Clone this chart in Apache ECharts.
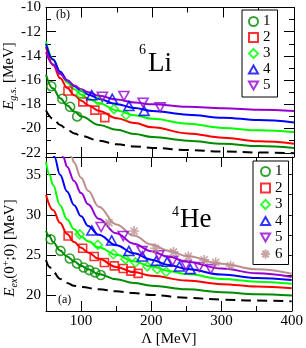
<!DOCTYPE html>
<html><head><meta charset="utf-8">
<script src="https://cdn.jsdelivr.net/npm/echarts@6/dist/echarts.min.js"></script>
<style>html,body{margin:0;padding:0;background:#fff}#c{width:306px;height:348px}</style>
</head><body><div id="c"></div>
<script>
// ---------- tick labels ----------
const xMajor = [100, 200, 300, 400];
const xMinor = [50, 150, 250, 350];
const liMajor = [-22, -20, -18, -16, -14, -12, -10];
const liMinor = [-21, -19, -17, -15, -13, -11];
const heMajor = [20, 25, 30, 35];
const heMinor = [22.5, 27.5, 32.5];
const legendNames = ['1', '2', '3', '4', '5', '6'];

// ---------- 6Li (panel b) points [Lambda, E] ----------
const li1 = [[57.5,-16.5],[73,-17.54],[84,-18.2],[94,-19.0]];
const li2 = [[81,-16.9],[102,-17.8],[119,-18.48],[133,-19.1]];
const li3 = [[99,-17.18],[124,-17.72],[146,-18.4],[163,-18.89]];
const li4 = [[114.5,-17.24],[143.5,-17.54],[167,-18.13],[188.5,-18.54]];
const li5 = [[129.5,-17.37],[160,-17.32],[187,-17.86],[211,-18.25]];
// 6Li fitted curves
const liFit1 = [[50,-15.55],[60,-16.7],[70,-17.5],[80,-18.1],[90,-18.6],[100,-19.0],[125,-19.7],[150,-20.1],[175,-20.45],[200,-20.7],[250,-21.0],[300,-21.25],[350,-21.45],[400,-21.6]];
const liFit2 = [[50,-13.25],[60,-14.75],[70,-15.85],[80,-16.65],[90,-17.25],[100,-17.7],[110,-18.1],[125,-18.55],[150,-19.15],[175,-19.55],[200,-19.9],[250,-20.4],[300,-20.75],[350,-21.05],[400,-21.25]];
const liFit3 = [[50,-12.8],[60,-14.3],[70,-15.4],[80,-16.2],[90,-16.75],[100,-17.2],[110,-17.55],[125,-17.9],[150,-18.5],[175,-18.9],[200,-19.2],[250,-19.6],[300,-19.95],[350,-20.15],[400,-20.3]];
const liFit4 = [[50,-13.0],[60,-14.3],[70,-15.3],[80,-16.0],[90,-16.5],[100,-16.9],[110,-17.2],[125,-17.55],[150,-18.0],[175,-18.3],[200,-18.55],[250,-18.85],[300,-19.1],[350,-19.3],[400,-19.5]];
const liFit5 = [[50,-13.7],[60,-14.7],[70,-15.5],[80,-16.05],[90,-16.45],[100,-16.75],[110,-17.0],[125,-17.3],[150,-17.6],[175,-17.85],[200,-18.0],[250,-18.2],[300,-18.32],[350,-18.45],[400,-18.55]];
const liLimit = [[50,-18.5],[60,-19.2],[70,-19.7],[80,-20.1],[90,-20.4],[100,-20.62],[125,-21.0],[150,-21.3],[175,-21.48],[200,-21.6],[250,-21.78],[300,-21.9],[350,-21.98],[400,-22.03]];

// ---------- 4He (panel a) points [Lambda, E] ----------
const he1 = [[56.6,26.94],[70.7,25.49],[83.9,24.55],[94.2,23.93],[103.6,23.43],[111.6,23.1],[120.1,22.8],[128,22.48]];
const he2 = [[81.5,27.35],[102.2,25.82],[118.7,24.8],[133.2,24.05],[147.3,23.63],[160,23.3],[170.9,22.97],[181.2,22.69]];
const he3 = [[98,27.56],[123.8,26.24],[145.9,25.08],[163.3,24.46],[177.4,24.05],[194.3,23.56],[208.4,23.22],[221.1,22.89]];
const he4 = [[115.3,28.05],[143.5,26.8],[168,25.49],[187.2,24.8],[207,24.25],[222.5,24.13],[240,23.56],[255.5,23.22]];
const he5 = [[128.5,28.46],[160,27.35],[186.8,25.49],[210.8,24.96],[230.5,24.25],[249.3,23.72],[268.2,23.5],[284.6,23.22]];
const he6 = [[139.8,29.0],[175.5,27.97],[205.6,25.82],[231.5,25.37],[252.7,24.8],[275.2,24.37],[291.6,24.05],[312.8,23.63]];
// 4He fitted curves
const heFit1 = [[50,28.0],[55,27.3],[60,26.6],[70,25.55],[80,24.8],[90,24.2],[100,23.65],[110,23.2],[125,22.6],[150,21.95],[175,21.5],[200,21.15],[250,20.7],[300,20.35],[350,20.1],[400,19.92]];
const heFit2 = [[50,32.5],[60,30.6],[70,29.0],[80,27.6],[90,26.6],[100,25.9],[110,25.3],[125,24.5],[150,23.5],[175,22.85],[200,22.4],[250,21.8],[300,21.35],[350,21.05],[400,20.85]];
const heFit3 = [[50,36.6],[55,35.0],[60,33.7],[70,31.2],[80,29.4],[90,28.2],[100,27.3],[110,26.7],[125,25.95],[150,25.0],[175,24.2],[200,23.55],[225,23.0],[250,22.6],[300,22.0],[350,21.65],[400,21.4]];
const heFit4 = [[58,38.4],[62,37.2],[70,35.0],[80,32.9],[90,31.2],[100,29.8],[110,28.6],[125,27.5],[150,26.2],[175,25.2],[200,24.4],[225,23.75],[250,23.25],[300,22.55],[350,22.1],[400,21.85]];
const heFit5 = [[72,38.0],[75,37.1],[80,36.0],[90,34.2],[100,32.7],[110,31.3],[125,29.5],[150,27.7],[175,26.4],[200,25.45],[225,24.75],[250,24.15],[300,23.3],[350,22.7],[400,22.25]];
const heFit6 = [[83,38.0],[87,37.1],[90,36.5],[100,34.6],[110,33.0],[125,31.0],[150,28.8],[175,27.4],[200,26.3],[225,25.5],[250,24.85],[300,23.9],[350,23.2],[400,22.65]];
const heLimit = [[50,24.35],[55,23.5],[60,22.9],[70,22.0],[80,21.5],[90,21.15],[100,21.0],[125,20.7],[150,20.45],[175,20.25],[200,20.0],[250,19.65],[300,19.42],[350,19.3],[400,19.2]];

// ---------- styles ----------
const FONT = "'Liberation Serif', 'Times New Roman', serif";
const colors = ['#008b00', '#ff0000', '#00ff00', '#0000ff', '#9400d3', '#bc8f8f'];
const symbols = ['circle', 'rect', 'diamond',
  'path://M5,0L10,8.66L0,8.66Z',
  'path://M0,0L10,0L5,8.66Z',
  'path://M5,0L5,10M0,5L10,5M1.46,1.46L8.54,8.54M1.46,8.54L8.54,1.46'];
const symSizes = [9, 8, 9, [10, 9], [10, 9], 10];

function xAx(g, pos, ticks, len, line, labels, extra) {
  return Object.assign({
    type: 'value', gridIndex: g, position: pos, min: 50, max: 400,
    axisLine: { show: line, onZero: false, lineStyle: { color: '#000', width: 1 } },
    axisTick: { show: true, inside: true, length: len, customValues: ticks, lineStyle: { color: '#000', width: 1 } },
    axisLabel: { show: labels, customValues: xMajor, color: '#000', fontFamily: FONT, fontSize: 15, margin: 3 },
    splitLine: { show: false }
  }, extra || {});
}
function yAx(g, pos, min, max, ticks, len, line, labels, labelVals) {
  return {
    type: 'value', gridIndex: g, position: pos, min: min, max: max,
    axisLine: { show: line, onZero: false, lineStyle: { color: '#000', width: 1 } },
    axisTick: { show: true, inside: true, length: len, customValues: ticks, lineStyle: { color: '#000', width: 1 } },
    axisLabel: { show: labels, customValues: labelVals, color: '#000', fontFamily: FONT, fontSize: 15, margin: 5 },
    splitLine: { show: false }
  };
}
const richName = {
  e: { fontFamily: FONT, fontSize: 15, fontStyle: 'italic' },
  s: { fontFamily: FONT, fontSize: 10, fontStyle: 'italic', padding: [9, 0, 0, 0] },
  p: { fontFamily: FONT, fontSize: 10, padding: [0, 0, 8, 0] },
  n: { fontFamily: FONT, fontSize: 15 }
};

const xAxes = [
  xAx(0, 'bottom', xMajor, 10, true, false), xAx(0, 'bottom', xMinor, 5, false, false),
  xAx(0, 'top', xMajor, 10, true, false), xAx(0, 'top', xMinor, 5, false, false),
  xAx(1, 'bottom', xMajor, 10, true, true, { name: 'Λ [MeV]', nameLocation: 'middle', nameGap: 21,
    nameTextStyle: { fontFamily: FONT, fontSize: 15, color: '#000' } }),
  xAx(1, 'bottom', xMinor, 5, false, false),
  xAx(1, 'top', xMajor, 10, true, false), xAx(1, 'top', xMinor, 5, false, false)
];
const yAxes = [
  yAx(0, 'left', -22.35, -10, liMajor, 10, true, true, liMajor),
  yAx(0, 'left', -22.35, -10, liMinor, 5, false, false, liMajor),
  yAx(0, 'right', -22.35, -10, liMajor, 10, true, false, liMajor),
  yAx(0, 'right', -22.35, -10, liMinor, 5, false, false, liMajor),
  yAx(1, 'left', 18, 37.2, heMajor, 10, true, true, heMajor),
  yAx(1, 'left', 18, 37.2, heMinor, 5, false, false, heMajor),
  yAx(1, 'right', 18, 37.2, heMajor, 10, true, false, heMajor),
  yAx(1, 'right', 18, 37.2, heMinor, 5, false, false, heMajor)
];

const series = [];
function addLine(data, axis, color, dashed) {
  series.push({
    type: 'line', xAxisIndex: axis, yAxisIndex: axis, data: data,
    smooth: 0.4, smoothMonotone: 'x', showSymbol: false, symbol: 'none', silent: true, clip: true,
    lineStyle: { color: color, width: 2, type: dashed ? [10, 6] : 'solid' }, z: 2
  });
}
function addPts(data, axis, i) {
  series.push({
    type: 'scatter', name: legendNames[i], xAxisIndex: axis, yAxisIndex: axis, data: data,
    symbol: symbols[i], symbolSize: symSizes[i],
    itemStyle: { color: 'rgba(255,255,255,0)', borderColor: colors[i], borderWidth: 1.6 }, z: 3
  });
}
[liFit1, liFit2, liFit3, liFit4, liFit5].forEach((d, i) => addLine(d, 0, colors[i]));
addLine(liLimit, 0, '#000', true);
[heFit1, heFit2, heFit3, heFit4, heFit5, heFit6].forEach((d, i) => addLine(d, 4, colors[i]));
addLine(heLimit, 4, '#000', true);
[li1, li2, li3, li4, li5].forEach((d, i) => addPts(d, 0, i));
[he1, he2, he3, he4, he5, he6].forEach((d, i) => addPts(d, 4, i));

const legendText = { fontFamily: FONT, fontSize: 15, color: '#000' };
const option = {
  animation: false,
  backgroundColor: '#fff',
  grid: [
    { left: 46, top: 5, width: 248, height: 152 },
    { left: 46, top: 157, width: 248, height: 155 }
  ],
  xAxis: xAxes,
  yAxis: yAxes,
  legend: [
    { data: legendNames.slice(0, 5), orient: 'vertical', left: 242, top: 10, selectedMode: false,
      backgroundColor: '#fff', borderColor: '#000', borderWidth: 1, borderRadius: 0,
      padding: [4, 7, 4, 6], itemWidth: 9, itemHeight: 9, itemGap: 1, textStyle: legendText },
    { data: legendNames, orient: 'vertical', left: 253, top: 161, selectedMode: false,
      backgroundColor: '#fff', borderColor: '#000', borderWidth: 1, borderRadius: 0,
      padding: [3, 6, 3, 7], itemWidth: 9, itemHeight: 9, itemGap: 1.5, textStyle: legendText }
  ],
  graphic: [
    { type: 'text', x: 9, y: 76, rotation: Math.PI / 2,
      style: { text: '{e|E}{s|g.s.}{n| [MeV]}', rich: richName, fill: '#000', align: 'center', verticalAlign: 'middle' } },
    { type: 'text', x: 10, y: 248, rotation: Math.PI / 2,
      style: { text: '{e|E}{s|ex}{n|(0}{p|+}{n|;0) [MeV]}', rich: richName, fill: '#000', align: 'center', verticalAlign: 'middle' } },
    { type: 'text', left: 56, top: 9, style: { text: '(b)', font: "12px 'Liberation Serif'", fill: '#000' } },
    { type: 'text', left: 58, top: 294, style: { text: '(a)', font: "12px 'Liberation Serif'", fill: '#000' } },
    { type: 'text', left: 139, top: 43, style: { text: '6', font: "14px 'Liberation Serif'", fill: '#000' } },
    { type: 'text', left: 148, top: 50, style: { text: 'Li', font: "27px 'Liberation Serif'", fill: '#000' } },
    { type: 'text', left: 172, top: 205, style: { text: '4', font: "14px 'Liberation Serif'", fill: '#000' } },
    { type: 'text', left: 180, top: 206, style: { text: 'He', font: "27px 'Liberation Serif'", fill: '#000' } }
  ],
  series: series
};
const chart = echarts.init(document.getElementById('c'), null, { renderer: 'canvas' });
chart.setOption(option);
</script>
</body></html>
